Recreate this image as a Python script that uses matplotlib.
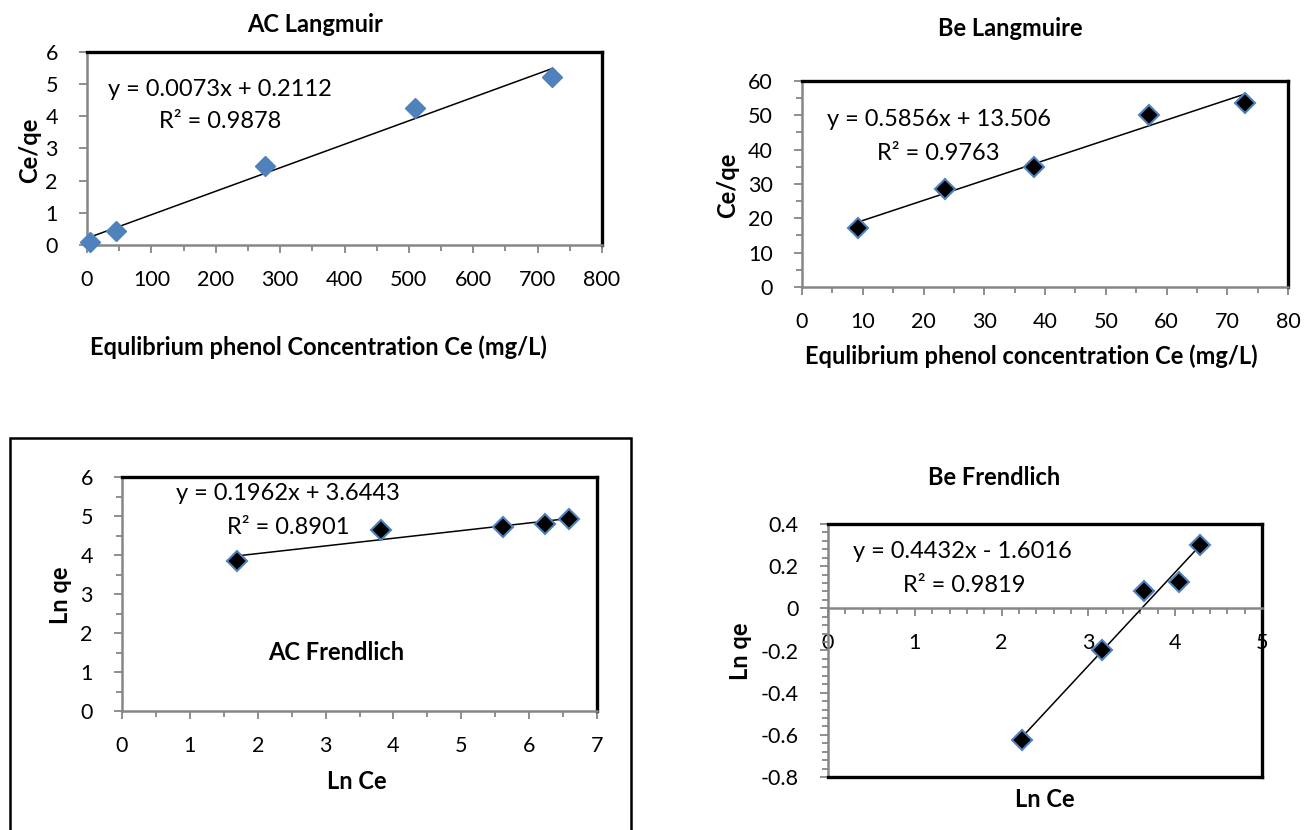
import matplotlib
matplotlib.use('Agg')
import matplotlib.pyplot as plt
from matplotlib.ticker import MultipleLocator, FuncFormatter
from matplotlib.patches import Rectangle
import numpy as np

plt.rcParams['font.family'] = ['Lato', 'DejaVu Sans']

W, H = 1306, 830

# AC Langmuir
ac_lang_ce = [5, 45, 276, 510, 723]
ac_lang_ratio = [0.10, 0.45, 2.47, 4.26, 5.21]
ac_lang_fit = (0.0073, 0.2112, 0.9878)

# Be Langmuire
be_lang_ce = [9.3, 23.5, 38.2, 57.1, 72.9]
be_lang_ratio = [17.2, 28.5, 34.9, 50.1, 53.5]
be_lang_fit = (0.5856, 13.506, 0.9763)

# AC Frendlich
ac_fr_lnce = [1.70, 3.81, 5.62, 6.23, 6.59]
ac_fr_lnqe = [3.85, 4.63, 4.72, 4.80, 4.92]
ac_fr_fit = (0.1962, 3.6443, 0.8901)

# Be Frendlich
be_fr_lnce = [2.23, 3.16, 3.64, 4.04, 4.29]
be_fr_lnqe = [-0.626, -0.20, 0.083, 0.127, 0.302]
be_fr_fit = (0.4432, -1.6016, 0.9819)

BLUE = '#4F81BD'
TICK = '#868686'
FS = 15.5   # tick labels
FT = 17     # equations, titles, axis labels

fig = plt.figure(figsize=(W / 100, H / 100), dpi=100)


def box(l, r, t, b):
    return [l / W, 1 - b / H, (r - l) / W, (b - t) / H]


def ftext(x, y, s, **kw):
    fig.text(x / W, 1 - y / H, s, **kw)


def fmt(v, pos):
    return f"{round(v, 6):g}"


def style(ax, xlim, ylim, xmaj, xmin, ymaj, ymin):
    ax.set_xlim(*xlim)
    ax.set_ylim(*ylim)
    ax.xaxis.set_major_locator(MultipleLocator(xmaj))
    ax.yaxis.set_major_locator(MultipleLocator(ymaj))
    if xmin:
        ax.xaxis.set_minor_locator(MultipleLocator(xmin))
    if ymin:
        ax.yaxis.set_minor_locator(MultipleLocator(ymin))
    ax.xaxis.set_major_formatter(FuncFormatter(fmt))
    ax.yaxis.set_major_formatter(FuncFormatter(fmt))
    # excel look: grey axis lines, black plot-area border
    for side in ('left', 'bottom'):
        ax.spines[side].set_linewidth(1.8)
        ax.spines[side].set_color(TICK)
    for side in ('top', 'right'):
        ax.spines[side].set_linewidth(2.4)
        ax.spines[side].set_color('black')
    ax.tick_params(which='both', direction='out', color=TICK, width=1.3, labelsize=FS)
    ax.tick_params(which='major', length=6)
    ax.tick_params(which='minor', length=4)
    ax.tick_params(axis='x', which='major', pad=12)
    ax.tick_params(axis='y', which='major', pad=15)


def trend(ax, x, fit):
    m, b, _ = fit
    xs = np.array([min(x), max(x)])
    ax.plot(xs, m * xs + b, color='black', lw=1.1, zorder=2)


def eq_text(fit):
    m, b, r2 = fit
    sign = '+' if b >= 0 else '-'
    return f"y = {m:.4f}x {sign} {abs(b):g}", f"R² = {r2:.4f}"


# ---- AC Langmuir
ax1 = fig.add_axes(box(87, 602, 52, 245))
style(ax1, (0, 800), (0, 6), 100, 50, 1, None)
trend(ax1, ac_lang_ce, ac_lang_fit)
ax1.plot(ac_lang_ce, ac_lang_ratio, 'D', ms=10, mfc=BLUE, mec=BLUE, mew=1, zorder=3, clip_on=False)
e, r = eq_text(ac_lang_fit)
ftext(108, 90, e, fontsize=FT, va='center')
ftext(159, 122, r, fontsize=FT, va='center')
ftext(315, 25, 'AC Langmuir', fontsize=FT, fontweight='bold', ha='center', va='center')
ftext(318, 347, 'Equlibrium phenol Concentration Ce (mg/L)', fontsize=FT, fontweight='bold', ha='center', va='center')
ftext(30, 150, 'Ce/qe', fontsize=FT, fontweight='bold', ha='center', va='center', rotation=90)

# ---- Be Langmuire
ax2 = fig.add_axes(box(802, 1288, 81, 287))
style(ax2, (0, 80), (0, 60), 10, 5, 10, 5)
trend(ax2, be_lang_ce, be_lang_fit)
ax2.plot(be_lang_ce, be_lang_ratio, 'D', ms=10, mfc='black', mec=BLUE, mew=1.5, zorder=3)
e, r = eq_text(be_lang_fit)
ftext(827, 119, e, fontsize=FT, va='center')
ftext(877, 153, r, fontsize=FT, va='center')
ftext(1010, 28, 'Be Langmuire', fontsize=FT, fontweight='bold', ha='center', va='center')
ftext(1031, 356, 'Equlibrium phenol concentration Ce (mg/L)', fontsize=FT, fontweight='bold', ha='center', va='center')
ftext(728, 185, 'Ce/qe', fontsize=FT, fontweight='bold', ha='center', va='center', rotation=90)

# ---- AC Frendlich (with outer chart frame, cut by the page edge)
fig.add_artist(Rectangle((10 / W, -0.05), (631 - 10) / W, (1 - 438 / H) + 0.05,
                         transform=fig.transFigure, fill=False, lw=1.8, ec='black'))
ax3 = fig.add_axes(box(122, 597, 477, 711))
style(ax3, (0, 7), (0, 6), 1, 0.5, 1, 0.5)
trend(ax3, ac_fr_lnce, ac_fr_fit)
ax3.plot(ac_fr_lnce, ac_fr_lnqe, 'D', ms=10, mfc='black', mec=BLUE, mew=1.5, zorder=3)
e, r = eq_text(ac_fr_fit)
ftext(176, 493, e, fontsize=FT, va='center')
ftext(227, 527, r, fontsize=FT, va='center')
ftext(336, 652, 'AC Frendlich', fontsize=FT, fontweight='bold', ha='center', va='center')
ftext(357, 781, 'Ln Ce', fontsize=FT, fontweight='bold', ha='center', va='center')
ftext(61, 595, 'Ln qe', fontsize=FT, fontweight='bold', ha='center', va='center', rotation=90)

# ---- Be Frendlich (x axis crosses at 0)
ax4 = fig.add_axes(box(828, 1262, 524, 777))
style(ax4, (0, 5), (-0.8, 0.4), 1, 0.2, 0.2, 0.04)
ax4.spines['bottom'].set_position(('data', 0))
ax4.plot([0, 1], [0, 0], transform=ax4.transAxes, color='black', lw=2.4,
         clip_on=False, zorder=5)
trend(ax4, be_fr_lnce, be_fr_fit)
ax4.plot(be_fr_lnce, be_fr_lnqe, 'D', ms=10, mfc='black', mec=BLUE, mew=1.5, zorder=3)
e, r = eq_text(be_fr_fit)
ftext(853, 552, e, fontsize=FT, va='center')
ftext(903, 585, r, fontsize=FT, va='center')
ftext(994, 477, 'Be Frendlich', fontsize=FT, fontweight='bold', ha='center', va='center')
ftext(1045, 799, 'Ln Ce', fontsize=FT, fontweight='bold', ha='center', va='center')
ftext(740, 651, 'Ln qe', fontsize=FT, fontweight='bold', ha='center', va='center', rotation=90)

fig.savefig('out.png', dpi=100)
